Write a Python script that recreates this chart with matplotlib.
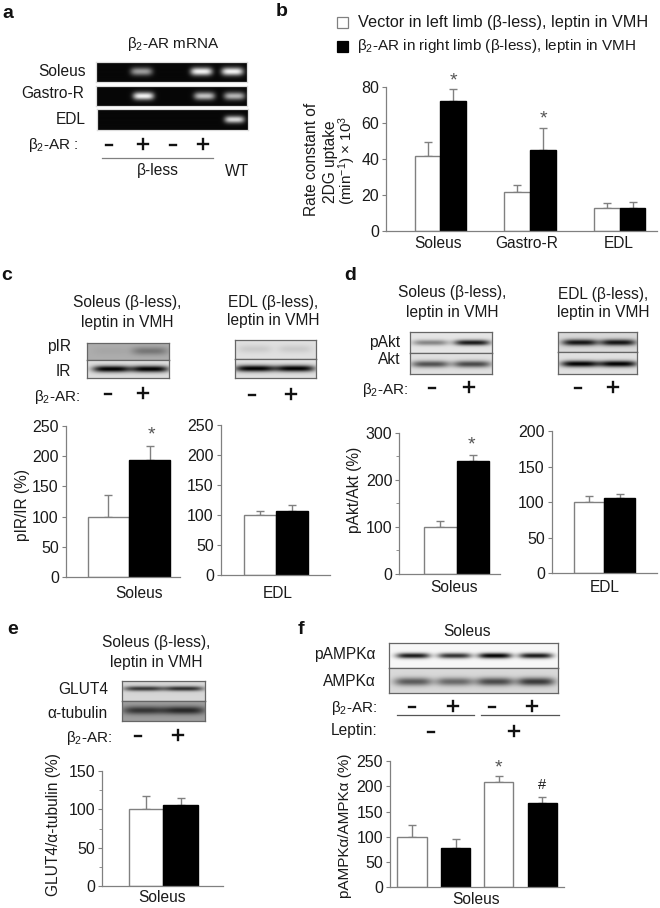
import numpy as np
import matplotlib
matplotlib.use('Agg')
import matplotlib.pyplot as plt
from matplotlib.patches import Rectangle

plt.rcParams['font.family'] = ['Liberation Sans', 'DejaVu Sans']
plt.rcParams['mathtext.fontset'] = 'custom'
plt.rcParams['mathtext.rm'] = 'Liberation Sans'
plt.rcParams['mathtext.default'] = 'regular'

W, H = 660, 908
TEXT = '#1a1a1a'
GREY = '#808080'
FS = 11.2
FS_MATH = 11

# panel b
b_vector = [41.5, 21.5, 13]
b_vector_top = [49.5, 25.5, 15.5]
b_ar = [72.5, 45, 13]
b_ar_top = [79, 57.5, 16]
# panel c
c_sol = [99, 194]
c_sol_top = [135, 217]
c_edl = [100, 107]
c_edl_top = [106, 117]
# panel d
d_sol = [100, 240]
d_sol_top = [112, 253]
d_edl = [100, 106]
d_edl_top = [109, 112]
# panel e
e_sol = [100, 105]
e_sol_top = [117, 115]
# panel f
f_sol = [100, 77, 208, 167]
f_sol_top = [124, 95, 221, 178]

b_cats = ['Soleus', 'Gastro-R', 'EDL']
AR = 'β$_2$-AR'

fig = plt.figure(figsize=(W / 100, H / 100), dpi=100, facecolor='white')


def px_axes(left, top, right, bottom, **kw):
    return fig.add_axes([left / W, 1 - bottom / H, (right - left) / W, (bottom - top) / H], **kw)


over = px_axes(0, 0, W, H, zorder=5)
over.set_xlim(0, W)
over.set_ylim(H, 0)
over.axis('off')
over.patch.set_alpha(0)


def label(x, y, s, ha='center', fs=FS, **kw):
    kw.setdefault('color', TEXT)
    over.text(x, y, s, ha=ha, va='center', fontsize=fs, **kw)


def signs(xs, y, marks):
    for x, m in zip(xs, marks):
        if m == '-':
            over.plot([x - 3, x + 3], [y + 1, y + 1], color='#111111', lw=1.7)
        else:
            over.plot([x - 5, x + 5], [y, y], color='#111111', lw=1.7)
            over.plot([x, x], [y - 5, y + 5], color='#111111', lw=1.7)


def star(x, y):
    over.text(x, y + 3, '*', ha='center', va='center', fontsize=14, color='#555555')


def bars(rect, ymax, yticks, minor, vals, tops, lefts, rights, fills):
    # x scale of these axes is plain figure pixels, bars are placed by their edges
    ax = px_axes(*rect)
    ax.set_xlim(rect[0], rect[2])
    ax.set_ylim(0, ymax)
    lefts, rights = np.array(lefts), np.array(rights)
    centers = (lefts + rights) / 2
    vals, tops = np.array(vals, float), np.array(tops, float)
    ax.errorbar(centers, vals, yerr=[np.zeros(len(vals)), tops - vals], fmt='none',
                ecolor=GREY, elinewidth=1, capsize=3, capthick=1, zorder=1)
    for l, r, v, f in zip(lefts, rights, vals, fills):
        ax.bar(l, v, width=r - l, align='edge', color=f,
               edgecolor=GREY if f == 'white' else 'black', linewidth=1, zorder=2)
    ax.set_yticks(yticks)
    if minor:
        ax.set_yticks(minor, minor=True)
    ax.set_xticks([])
    ax.tick_params(axis='y', length=3, width=0.8, color=GREY, labelsize=11.5, labelcolor=TEXT, pad=2)
    ax.tick_params(axis='y', which='minor', length=2, width=0.6, color=GREY)
    for s in ['top', 'right']:
        ax.spines[s].set_visible(False)
    for s in ['left', 'bottom']:
        ax.spines[s].set_color(GREY)
        ax.spines[s].set_linewidth(0.9)
    ax.patch.set_alpha(0)
    return ax


def blot(rect, centers, amps, bg, ink, hw=17, ht=3.0, edge='#666666', yc=None):
    l, t, r, b = rect
    ax = px_axes(l, t, r, b, zorder=3)
    nx, ny = int(round(r - l)) * 2, int(round(b - t)) * 2
    xx, yy = np.meshgrid(np.linspace(l, r, nx), np.linspace(t, b, ny))
    yc = (t + b) / 2 if yc is None else yc
    img = np.full((ny, nx), float(bg))
    for c, a in zip(centers, amps):
        img += (ink - bg) * a * np.exp(-((xx - c) / hw) ** 4) * np.exp(-((yy - yc) / ht) ** 2)
    ax.imshow(np.clip(img, 0, 1), cmap='gray', vmin=0, vmax=1, aspect='auto',
              interpolation='bilinear', extent=(l, r, b, t))
    ax.set_xticks([])
    ax.set_yticks([])
    for s in ax.spines.values():
        s.set_color(edge)
        s.set_linewidth(0.9)


# panel letters
for x, y, s in [(8, 14, 'a'), (282, 11, 'b'), (7, 276, 'c'), (350, 276, 'd'), (13, 629, 'e'), (301, 630, 'f')]:
    over.text(x, y, s, ha='center', va='center', fontsize=14, fontweight='bold', color='#111111')

# a
label(173, 44, AR + ' mRNA', fs=FS_MATH)
label(86, 71, 'Soleus', ha='right')
label(84, 94, 'Gastro-R', ha='right')
label(86, 119, 'EDL', ha='right')
label(79, 145, AR + ' :', ha='right', fs=FS_MATH)
signs([109, 143, 173, 203], 144, '-+-+')
over.plot([102, 213], [158, 158], color=GREY, lw=0.9)
label(158, 170, 'β-less')
label(237, 171, 'WT')
blot((95.7, 62, 247.3, 82.3), [141, 201, 232], [0.6, 0.95, 0.95], 0.03, 1.0, hw=11, ht=4, edge='#dddddd')
blot((95.7, 86, 247.3, 106), [143, 204, 234], [0.95, 0.75, 0.7], 0.03, 1.0, hw=10.5, ht=4, edge='#dddddd')
blot((96.7, 109.3, 248.3, 129.7), [234], [0.85], 0.03, 1.0, hw=10, ht=3.6, edge='#dddddd')

# b
over.add_patch(Rectangle((336.7, 17.3), 11, 11, facecolor='white', edgecolor=GREY, lw=0.9))
over.add_patch(Rectangle((336.7, 40.7), 11, 11, facecolor='black', edgecolor='black', lw=0.9))
label(358, 23, 'Vector in left limb (β-less), leptin in VMH', ha='left', fs=11.7)
label(357, 46, AR + ' in right limb (β-less), leptin in VMH', ha='left', fs=FS_MATH)
label(311, 159, 'Rate constant of', rotation=90)
label(330, 162, '2DG uptake', rotation=90)
label(347, 160, '(min$^{-1}$) × 10$^3$', rotation=90, fs=FS_MATH)
bars((386, 87, 657, 231), 80, [0, 20, 40, 60, 80], None,
     b_vector + b_ar, b_vector_top + b_ar_top,
     [414.7, 503.7, 593.7, 440.3, 529.7, 619.7],
     [440.3, 529.7, 619.7, 466, 555.7, 645.3],
     ['white'] * 3 + ['black'] * 3)
for x, s in zip([437.7, 527, 619], b_cats):
    label(x, 243, s)
star(453, 78)
star(543, 116)

# c
label(127, 303, 'Soleus (β-less),')
label(127, 322, 'leptin in VMH')
label(273, 302, 'EDL (β-less),')
label(273, 320, 'leptin in VMH')
label(71, 347, 'pIR', ha='right')
label(71, 371, 'IR', ha='right')
label(80, 397, AR + ':', ha='right', fs=FS_MATH)
signs([108, 143], 393, '-+')
signs([252, 291], 394, '-+')
blot((87.3, 342.7, 169, 360), [111, 150], [0.06, 0.45], 0.68, 0.2, hw=18, ht=4)
blot((87.3, 360, 169, 378), [111.7, 150], [1, 1], 0.87, 0.0, hw=19, ht=3.4)
blot((235.3, 339.7, 315.7, 359.3), [255, 295], [0.3, 0.3], 0.88, 0.6, hw=17, ht=4)
blot((235.3, 359.3, 315.7, 378.3), [255, 295], [1, 1], 0.88, 0.0, hw=20, ht=3.4)
bars((65.7, 426, 180, 577), 250, [0, 50, 100, 150, 200, 250], None,
     c_sol, c_sol_top, [87.7, 128.7], [128.7, 170.3], ['white', 'black'])
bars((220.7, 425, 330, 575), 250, [0, 50, 100, 150, 200, 250], None,
     c_edl, c_edl_top, [244.3, 276], [276, 308.3], ['white', 'black'])
star(151, 432)
label(22, 505, 'pIR/IR (%)', rotation=90)
label(139, 593, 'Soleus')
label(278, 593, 'EDL')

# d
label(452, 293, 'Soleus (β-less),')
label(452, 312, 'leptin in VMH')
label(603, 294, 'EDL (β-less),')
label(603, 313, 'leptin in VMH')
label(400, 343, 'pAkt', ha='right')
label(400, 359, 'Akt', ha='right')
label(408, 390, AR + ':', ha='right', fs=FS_MATH)
signs([432, 469], 387, '-+')
signs([578, 613], 387, '-+')
blot((409.7, 331.7, 492.3, 353), [430, 471.7], [0.45, 0.95], 0.9, 0.05, hw=18, ht=2.8, yc=343)
blot((409.7, 353, 492.3, 373.7), [430, 471.7], [0.68, 0.72], 0.88, 0.05, hw=19, ht=3.4, yc=364)
blot((558.3, 331.7, 636.7, 352.3), [580, 618], [0.95, 0.95], 0.85, 0.03, hw=18, ht=3.2, yc=343)
blot((558.3, 352.3, 636.7, 374), [580, 618], [1, 1], 0.88, 0.0, hw=19, ht=3.2, yc=364)
bars((399.3, 433, 500, 573.7), 300, [0, 100, 200, 300], [50, 150, 250],
     d_sol, d_sol_top, [423.7, 456.7], [456.7, 488.7], ['white', 'black'])
bars((551.7, 431, 656.7, 573.3), 200, [0, 50, 100, 150, 200], None,
     d_edl, d_edl_top, [574, 604.3], [604.3, 635.3], ['white', 'black'])
star(471, 442)
label(355, 490, 'pAkt/Akt (%)', rotation=90)
label(454, 588, 'Soleus')
label(605, 587, 'EDL')

# e
label(156, 643, 'Soleus (β-less),')
label(156, 663, 'leptin in VMH')
label(108, 690, 'GLUT4', ha='right')
label(108, 713, 'α-tubulin', ha='right')
label(112, 738, AR + ':', ha='right', fs=FS_MATH)
signs([138, 178], 735, '-+')
blot((121.7, 680.7, 205.3, 701), [143.3, 183.3], [0.85, 0.9], 0.84, 0.1, hw=20, ht=2.4, yc=689)
blot((121.7, 701, 205.3, 721.3), [143.3, 183.3], [0.8, 0.9], 0.62, 0.1, hw=21, ht=4, yc=711)
bars((102, 770.7, 223, 886.3), 150, [0, 50, 100, 150], [25, 75, 125],
     e_sol, e_sol_top, [128.7, 163.3], [163.3, 198], ['white', 'black'])
label(54, 825, 'GLUT4/α-tubulin (%)', rotation=90)
label(162, 897, 'Soleus')

# f
label(467, 631, 'Soleus')
label(376, 655, 'pAMPKα', ha='right')
label(376, 681, 'AMPKα', ha='right')
label(377, 708, AR + ':', ha='right', fs=FS_MATH)
signs([412, 453, 492, 532], 706, '-+-+')
over.plot([396.7, 473.7], [715, 715], color='#555555', lw=0.9)
over.plot([481, 558.7], [715, 715], color='#555555', lw=0.9)
label(377, 730, 'Leptin:', ha='right')
signs([431, 514], 731, '-+')
blot((388.7, 643.3, 557.7, 668.3), [412.7, 454.3, 494.7, 535.7], [0.9, 0.8, 1, 0.9], 0.97, 0.0, hw=17, ht=2.8, yc=656)
blot((388.7, 668.3, 557.7, 693.3), [412.7, 454.3, 494.7, 535.7], [0.62, 0.55, 0.7, 0.78], 0.85, 0.05, hw=19, ht=4.2, yc=682)
bars((390, 761, 564, 887.3), 250, [0, 50, 100, 150, 200, 250], None,
     f_sol, f_sol_top, [397.3, 441, 484.3, 527.7], [426.7, 470, 513.3, 557],
     ['white', 'black', 'white', 'black'])
star(498, 765)
over.text(542, 785, '#', ha='center', va='center', fontsize=10.5, color=TEXT)
label(345, 826, 'pAMPKα/AMPKα (%)', rotation=90, fs=11)
label(476, 899, 'Soleus')

fig.savefig('out.png', dpi=100)
